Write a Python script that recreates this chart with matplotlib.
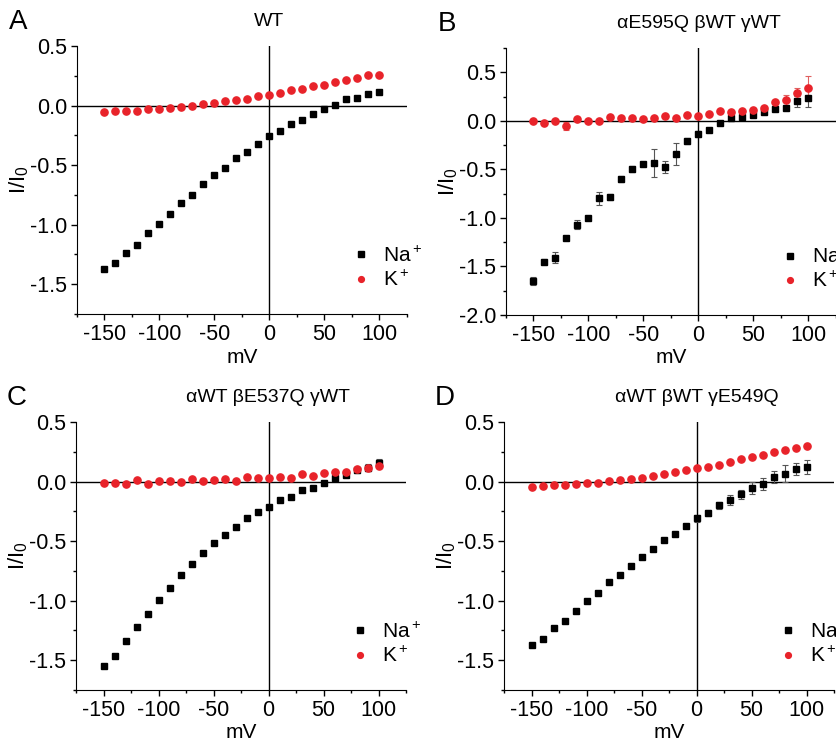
#!/usr/bin/env python3
"""
I/V curves, four channel variants, Na+ vs K+
"""

import numpy as np
import matplotlib
matplotlib.use("Agg")
import matplotlib.pyplot as plt
from matplotlib.ticker import MultipleLocator

plt.rcParams['font.family'] = ['Liberation Sans', 'DejaVu Sans']
plt.rcParams['axes.unicode_minus'] = False
plt.rcParams['mathtext.fontset'] = 'custom'
plt.rcParams['mathtext.rm'] = 'Liberation Sans'

# voltage steps (mV)
mv = [-150, -140, -130, -120, -110, -100, -90, -80, -70, -60, -50, -40, -30,
      -20, -10, 0, 10, 20, 30, 40, 50, 60, 70, 80, 90, 100]

titles = ['WT', 'αE595Q βWT γWT', 'αWT βE537Q γWT', 'αWT βWT γE549Q']
letters = ['A', 'B', 'C', 'D']

# panel A
na_a = [-1.372, -1.325, -1.239, -1.172, -1.072, -0.994, -0.914, -0.819, -0.747,
        -0.658, -0.586, -0.525, -0.444, -0.386, -0.319, -0.258, -0.214, -0.158,
        -0.119, -0.075, -0.031, 0.006, 0.053, 0.064, 0.094, 0.111]
k_a = [-0.053, -0.042, -0.042, -0.042, -0.031, -0.031, -0.022, -0.011, -0.006,
       0.017, 0.022, 0.036, 0.047, 0.056, 0.078, 0.086, 0.108, 0.128, 0.142,
       0.164, 0.172, 0.200, 0.214, 0.231, 0.253, 0.256]

# panel B
na_b = [-1.651, -1.449, -1.408, -1.209, -1.068, -1.003, -0.798, -0.784, -0.599,
        -0.493, -0.445, -0.438, -0.476, -0.342, -0.212, -0.137, -0.096, -0.027,
        0.027, 0.038, 0.065, 0.086, 0.123, 0.134, 0.202, 0.240]
na_b_err = [0.038, 0.03, 0.058, 0.02, 0.05, 0.02, 0.07, 0.035, 0.03, 0.03, 0.02,
            0.145, 0.065, 0.115, 0.03, 0.03, 0.02, 0.02, 0.02, 0.02, 0.02, 0.02,
            0.02, 0.02, 0.055, 0.10]
k_b = [-0.007, -0.020, 0.000, -0.050, 0.014, 0.003, -0.003, 0.038, 0.034, 0.024,
       0.014, 0.027, 0.048, 0.031, 0.062, 0.045, 0.068, 0.096, 0.086, 0.103,
       0.110, 0.134, 0.192, 0.216, 0.284, 0.339]
k_b_err = [0.01, 0.01, 0.01, 0.04, 0.01, 0.01, 0.01, 0.01, 0.01, 0.01, 0.01,
           0.01, 0.01, 0.01, 0.01, 0.01, 0.01, 0.01, 0.01, 0.01, 0.02, 0.02,
           0.02, 0.05, 0.05, 0.12]

# panel C
na_c = [-1.550, -1.464, -1.342, -1.222, -1.114, -0.992, -0.894, -0.786, -0.689,
        -0.603, -0.517, -0.450, -0.381, -0.303, -0.256, -0.211, -0.153, -0.131,
        -0.067, -0.050, -0.011, 0.033, 0.053, 0.094, 0.117, 0.158]
na_c_err = [0.01] * 22 + [0.015, 0.02, 0.03, 0.03]
k_c = [-0.008, -0.008, -0.017, 0.011, -0.019, 0.003, 0.008, -0.006, 0.019,
       0.003, 0.017, 0.025, 0.006, 0.039, 0.028, 0.033, 0.042, 0.033, 0.064,
       0.047, 0.072, 0.083, 0.078, 0.108, 0.117, 0.128]
k_c_err = [0.01] * 26

# panel D
na_d = [-1.374, -1.320, -1.233, -1.169, -1.084, -1.006, -0.933, -0.846, -0.784,
        -0.705, -0.632, -0.567, -0.489, -0.438, -0.374, -0.309, -0.264, -0.199,
        -0.157, -0.107, -0.051, -0.017, 0.037, 0.067, 0.104, 0.124]
na_d_err = [0.01] * 15 + [0.03, 0.025, 0.03, 0.04, 0.04, 0.05, 0.05, 0.05,
                          0.07, 0.05, 0.06]
k_d = [-0.042, -0.037, -0.031, -0.025, -0.020, -0.014, -0.008, 0.006, 0.011,
       0.022, 0.034, 0.045, 0.065, 0.079, 0.096, 0.115, 0.124, 0.143, 0.163,
       0.188, 0.208, 0.222, 0.244, 0.261, 0.278, 0.295]

panels = [
    (na_a, None, k_a, None, (-1.75, 0.5)),
    (na_b, na_b_err, k_b, k_b_err, (-2.0, 0.75)),
    (na_c, na_c_err, k_c, k_c_err, (-1.75, 0.5)),
    (na_d, na_d_err, k_d, None, (-1.75, 0.5)),
]

# axes boxes in pixels: left, right, top, bottom
boxes = [(77, 407, 46, 314), (506, 836, 48, 315),
         (76, 406, 422, 690), (504, 834, 422, 690)]

W, H = 837, 739
red = '#e8232a'

fig = plt.figure(figsize=(W / 100, H / 100), dpi=100)

for i, (na, na_err, k, k_err, ylim) in enumerate(panels):
    l, r, t, b = boxes[i]
    ax = fig.add_axes([l / W, 1 - b / H, (r - l) / W, (b - t) / H])

    ax.axhline(0, color='black', lw=1, zorder=1)
    ax.axvline(0, color='black', lw=1, zorder=1)

    # error bars first, markers on top
    if na_err is not None:
        ax.errorbar(mv, na, yerr=na_err, fmt='none', ecolor='#555555',
                    elinewidth=0.8, capsize=2.5, capthick=0.8, zorder=2)
    if k_err is not None:
        ax.errorbar(mv, k, yerr=k_err, fmt='none', ecolor='#e06060',
                    elinewidth=0.8, capsize=2.5, capthick=0.8, zorder=2)
    ax.plot(mv, na, 's', color='black', ms=4.6, label='$\\mathregular{Na^+}$',
            zorder=3)
    ax.plot(mv, k, 'o', color=red, ms=5.2, label='$\\mathregular{K^+}$',
            zorder=4)

    ax.set_xlim(-175, 125)
    ax.set_ylim(*ylim)
    ax.xaxis.set_major_locator(MultipleLocator(50))
    ax.xaxis.set_minor_locator(MultipleLocator(25))
    ax.yaxis.set_major_locator(MultipleLocator(0.5))
    ax.yaxis.set_minor_locator(MultipleLocator(0.25))
    ax.yaxis.set_major_formatter(plt.FormatStrFormatter('%.1f'))
    ax.tick_params(which='major', direction='out', length=4, width=1,
                   labelsize=15.5, pad=3)
    ax.tick_params(which='minor', direction='out', length=2.5, width=1)

    for s in ['top', 'right']:
        ax.spines[s].set_visible(False)

    ax.set_xlabel('mV', fontsize=15, labelpad=2)
    ax.set_ylabel('$\\mathregular{I/I_0}$', fontsize=16, labelpad=-1)

    ax.text(0, 1.0 + 24 / (b - t), titles[i], transform=ax.get_xaxis_transform(),
            ha='center', va='center', fontsize=14)
    fig.text((l - 59) / W, 1 - (t - 24) / H, letters[i], ha='center',
             va='center', fontsize=20)

    ax.legend(loc='upper left', bbox_to_anchor=(0.83, 0.255), frameon=False,
              handlelength=1.0, handletextpad=0.55, labelspacing=0.2,
              borderpad=0, borderaxespad=0, fontsize=15, markerscale=0.8)

fig.savefig('out.png', dpi=100)
